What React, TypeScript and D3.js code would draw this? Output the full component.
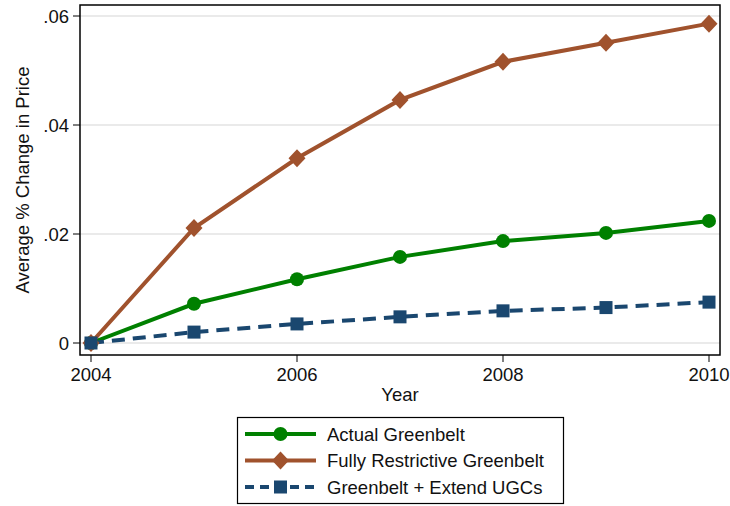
import React from "react";
import * as d3 from "d3";

const years = [2004, 2005, 2006, 2007, 2008, 2009, 2010];
const actualGreenbelt = [0, 0.0072, 0.0117, 0.0158, 0.0187, 0.0202, 0.0224];
const fullyRestrictive = [0, 0.0211, 0.0339, 0.0446, 0.0516, 0.0551, 0.0586];
const extendUGCs = [0, 0.002, 0.0035, 0.0048, 0.0059, 0.0065, 0.0075];
const yTicks = [0, 0.02, 0.04, 0.06];
const yTickLabels = ["0", ".02", ".04", ".06"];
const xTicks = [2004, 2006, 2008, 2010];

const seriesNames = ["Actual Greenbelt", "Fully Restrictive Greenbelt", "Greenbelt + Extend UGCs"];
const seriesColors = ["#008000", "#A0522D", "#1A476F"];

export default function App() {
  const W = 730, H = 506;
  const frame = { left: 80, right: 720, top: 5, bottom: 355 };
  const x = d3.scaleLinear().domain([2004, 2010]).range([91, 709]);
  const y = d3.scaleLinear().domain([0, 0.06]).range([343, 16]);
  const series = [actualGreenbelt, fullyRestrictive, extendUGCs];
  const line = d3.line<number>().x((_, i) => x(years[i])).y((d) => y(d));
  const font = "'Liberation Sans', Arial, sans-serif";
  const fs = 18.5;

  const marker = (k: number, cx: number, cy: number, key: string) => {
    const c = seriesColors[k];
    if (k === 0) return <circle key={key} cx={cx} cy={cy} r={7} fill={c} />;
    if (k === 1)
      return <path key={key} d={`M${cx},${cy - 9}L${cx + 8.5},${cy}L${cx},${cy + 9}L${cx - 8.5},${cy}Z`} fill={c} />;
    return <rect key={key} x={cx - 6.5} y={cy - 6.5} width={13} height={13} fill={c} />;
  };

  return (
    <svg width={W} height={H} style={{ display: "block", position: "absolute", left: 0, top: 0 }} fontFamily={font}>
      <rect x={0} y={0} width={W} height={H} fill="#fff" />
      {yTicks.map((t, i) => (
        <g key={i}>
          <line x1={frame.left} x2={frame.right} y1={y(t)} y2={y(t)} stroke="#e3e3e3" strokeWidth={1.5} />
          <line x1={frame.left - 7} x2={frame.left} y1={y(t)} y2={y(t)} stroke="#000" strokeWidth={1} />
          <text x={frame.left - 11} y={y(t)} dy="0.36em" textAnchor="end" fontSize={fs} fill="#111">
            {yTickLabels[i]}
          </text>
        </g>
      ))}
      {xTicks.map((t) => (
        <g key={t}>
          <line x1={x(t)} x2={x(t)} y1={frame.bottom} y2={frame.bottom + 7} stroke="#000" strokeWidth={1} />
          <text x={x(t)} y={frame.bottom + 26} textAnchor="middle" fontSize={fs} fill="#111">
            {t}
          </text>
        </g>
      ))}
      <rect x={frame.left} y={frame.top} width={frame.right - frame.left} height={frame.bottom - frame.top} fill="none" stroke="#000" strokeWidth={1.5} />
      {series.map((s, k) => (
        <path key={k} d={line(s) || ""} fill="none" stroke={seriesColors[k]} strokeWidth={4}
          strokeDasharray={k === 2 ? "13,8" : undefined} />
      ))}
      {series.map((s, k) => s.map((v, i) => marker(k, x(years[i]), y(v), `${k}-${i}`)))}
      <text x={(frame.left + frame.right) / 2} y={401} textAnchor="middle" fontSize={fs} fill="#111">Year</text>
      <text transform={`translate(29,${(frame.top + frame.bottom) / 2}) rotate(-90)`} textAnchor="middle" fontSize={fs} fill="#111">
        Average % Change in Price
      </text>
      <rect x={237.5} y={417.5} width={326} height={86} fill="#fff" stroke="#000" strokeWidth={1.2} />
      {seriesNames.map((n, k) => {
        const ly = 434 + k * 26.5;
        return (
          <g key={n}>
            <line x1={245} x2={316} y1={ly} y2={ly} stroke={seriesColors[k]} strokeWidth={4}
              strokeDasharray={k === 2 ? "9,6" : undefined} />
            {marker(k, 280.5, ly, `lg-${k}`)}
            <text x={327} y={ly} dy="0.36em" fontSize={fs} fill="#111">{n}</text>
          </g>
        );
      })}
    </svg>
  );
}
